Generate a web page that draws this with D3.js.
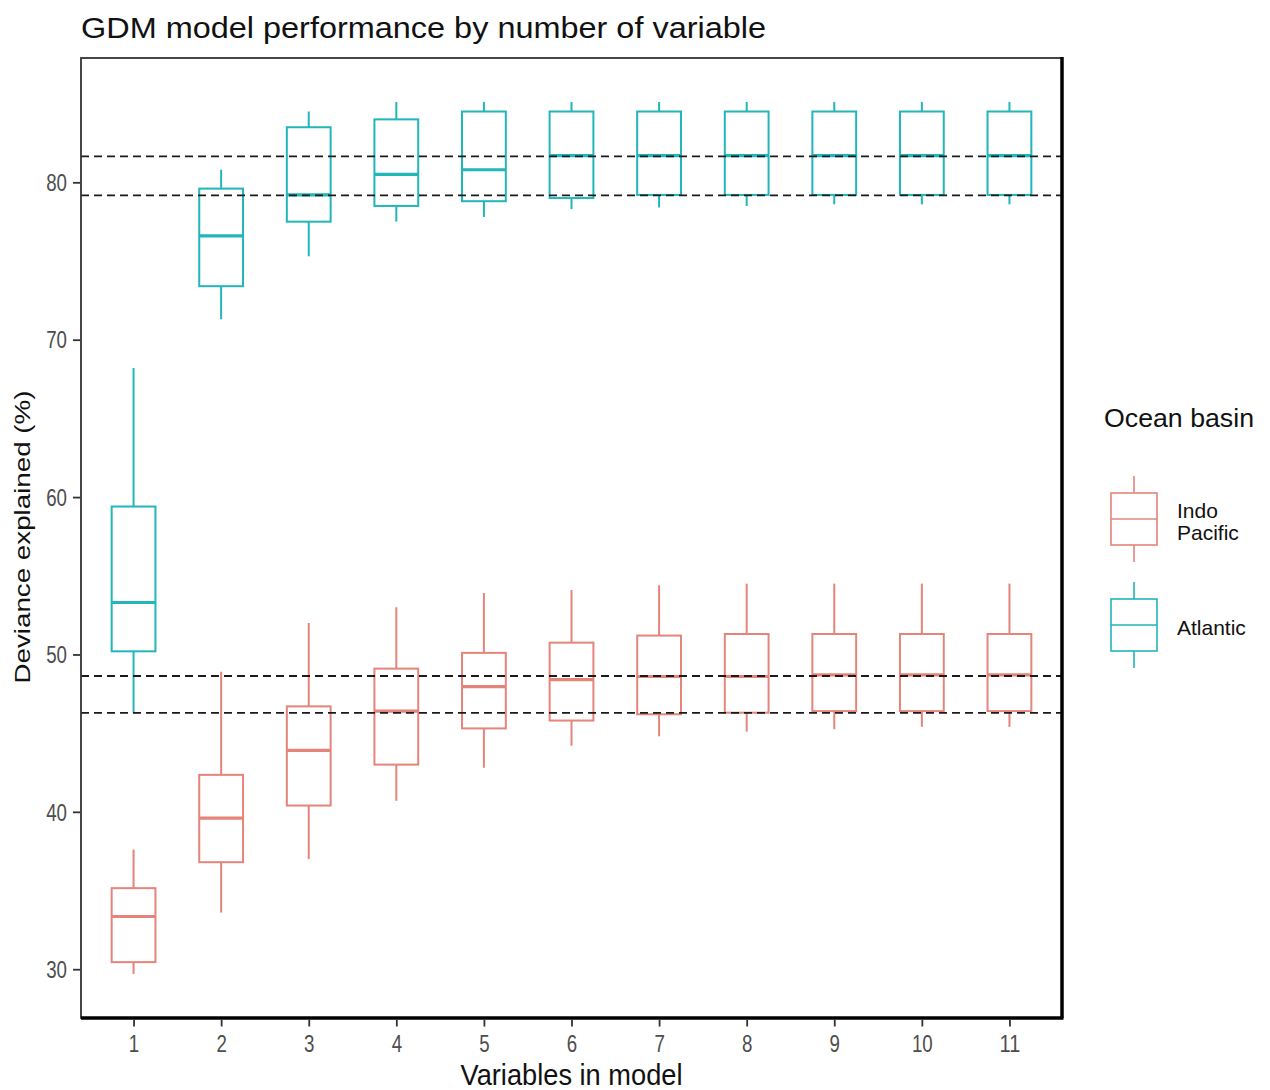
<!DOCTYPE html>
<html>
<head>
<meta charset="utf-8">
<script src="https://cdn.jsdelivr.net/npm/d3@7"></script>
<style>
  body { margin: 0; background: #fff; }
  svg { display: block; }
</style>
</head>
<body>
<div id="chart"></div>
<script>
// x categories
const variables = [1, 2, 3, 4, 5, 6, 7, 8, 9, 10, 11];
const yTicks = [30, 40, 50, 60, 70, 80];
const basins = ["Indo Pacific", "Atlantic"];

// Atlantic box stats (deviance explained, %)
const atlMin = [46.3, 71.3, 75.3, 77.5, 77.8, 78.3, 78.4, 78.5, 78.6, 78.6, 78.6];
const atlQ1  = [50.2, 73.4, 77.5, 78.5, 78.8, 79.0, 79.2, 79.2, 79.2, 79.2, 79.2];
const atlMed = [53.3, 76.6, 79.2, 80.5, 80.8, 81.7, 81.7, 81.7, 81.7, 81.7, 81.7];
const atlQ3  = [59.4, 79.6, 83.5, 84.0, 84.5, 84.5, 84.5, 84.5, 84.5, 84.5, 84.5];
const atlMax = [68.2, 80.8, 84.5, 85.1, 85.1, 85.1, 85.1, 85.1, 85.1, 85.1, 85.1];

// Indo Pacific box stats
const indoMin = [29.7, 33.6, 37.0, 40.7, 42.8, 44.2, 44.8, 45.1, 45.25, 45.4, 45.4];
const indoQ1  = [30.45, 36.8, 40.4, 43.0, 45.3, 45.8, 46.2, 46.3, 46.4, 46.4, 46.4];
const indoMed = [33.35, 39.6, 43.9, 46.4, 47.95, 48.4, 48.6, 48.6, 48.7, 48.7, 48.7];
const indoQ3  = [35.15, 42.35, 46.7, 49.1, 50.1, 50.75, 51.2, 51.3, 51.3, 51.3, 51.3];
const indoMax = [37.6, 48.9, 52.0, 53.0, 53.9, 54.1, 54.4, 54.5, 54.5, 54.5, 54.5];

// dashed reference lines
const refLines = [81.65, 79.17, 48.63, 46.29];

const width = 1270;
const height = 1090;
const plotL = 81, plotR = 1062, plotT = 58, plotB = 1018;
const colors = { "Indo Pacific": "#E5847A", "Atlantic": "#22B5B9" };
const narrow = "'Liberation Sans Narrow', 'Arial Narrow', 'Liberation Sans', Arial, sans-serif";
const regular = "'Liberation Sans', Arial, sans-serif";

const svg = d3.select("#chart").append("svg")
    .attr("width", width)
    .attr("height", height);

const x = d3.scalePoint()
    .domain(variables)
    .range([plotL, plotR])
    .padding(0.6);

const y = d3.scaleLinear()
    .domain([26.9, 87.9])
    .range([plotB, plotT]);

const boxW = x.step() * 0.5;

function rows(name, mn, q1, md, q3, mx) {
  return variables.map((v, i) => ({
    basin: name, v: v, min: mn[i], q1: q1[i], med: md[i], q3: q3[i], max: mx[i]
  }));
}
const data = rows("Indo Pacific", indoMin, indoQ1, indoMed, indoQ3, indoMax)
  .concat(rows("Atlantic", atlMin, atlQ1, atlMed, atlQ3, atlMax));

// boxes
const g = svg.append("g");
const box = g.selectAll("g.box")
    .data(data)
  .enter().append("g")
    .attr("class", "box")
    .attr("stroke", d => colors[d.basin])
    .attr("fill", "none");

box.append("line")
    .attr("x1", d => x(d.v)).attr("x2", d => x(d.v))
    .attr("y1", d => y(d.max)).attr("y2", d => y(d.q3))
    .attr("stroke-width", 2);
box.append("line")
    .attr("x1", d => x(d.v)).attr("x2", d => x(d.v))
    .attr("y1", d => y(d.q1)).attr("y2", d => y(d.min))
    .attr("stroke-width", 2);
box.append("rect")
    .attr("x", d => x(d.v) - boxW / 2)
    .attr("width", boxW)
    .attr("y", d => y(d.q3))
    .attr("height", d => y(d.q1) - y(d.q3))
    .attr("fill", "#fff")
    .attr("stroke-width", 2);
box.append("line")
    .attr("x1", d => x(d.v) - boxW / 2).attr("x2", d => x(d.v) + boxW / 2)
    .attr("y1", d => y(d.med)).attr("y2", d => y(d.med))
    .attr("stroke-width", 3.2);

// dashed lines on top
svg.append("g").selectAll("line")
    .data(refLines)
  .enter().append("line")
    .attr("x1", plotL).attr("x2", plotR)
    .attr("y1", d => y(d)).attr("y2", d => y(d))
    .attr("stroke", "#1a1a1a")
    .attr("stroke-width", 1.8)
    .attr("stroke-dasharray", "8,5");

// frame
svg.append("rect")
    .attr("x", plotL).attr("y", plotT)
    .attr("width", plotR - plotL).attr("height", plotB - plotT)
    .attr("fill", "none")
    .attr("stroke", "#333")
    .attr("stroke-width", 1.8);
svg.append("line")
    .attr("x1", plotL).attr("x2", plotR + 1.5)
    .attr("y1", plotB).attr("y2", plotB)
    .attr("stroke", "#000").attr("stroke-width", 3.5);
svg.append("line")
    .attr("x1", plotR).attr("x2", plotR)
    .attr("y1", plotT - 1).attr("y2", plotB)
    .attr("stroke", "#000").attr("stroke-width", 3.5);

// axes
const yAxis = svg.append("g")
    .attr("transform", "translate(" + (plotL - 1) + ",0)")
    .call(d3.axisLeft(y).tickValues(yTicks).tickSize(7).tickPadding(6));
const xAxis = svg.append("g")
    .attr("transform", "translate(0," + (plotB + 1.5) + ")")
    .call(d3.axisBottom(x).tickSize(7).tickPadding(9));

[yAxis, xAxis].forEach(a => {
  a.select(".domain").remove();
  a.selectAll(".tick line").attr("stroke", "#333").attr("stroke-width", 1.8);
  // squeeze digits to the condensed look of the original
  a.selectAll(".tick text")
      .attr("fill", "#4d4d4d")
      .attr("textLength", d => String(d).length * 10.4)
      .attr("lengthAdjust", "spacingAndGlyphs")
      .style("font-family", narrow)
      .style("font-size", "23px");
});
yAxis.selectAll(".tick text").attr("dy", "0.36em");

// title
svg.append("text")
    .attr("x", plotL)
    .attr("y", 38)
    .attr("textLength", 685)
    .attr("lengthAdjust", "spacingAndGlyphs")
    .style("font-family", regular)
    .style("font-size", "29px")
    .attr("fill", "#111")
    .text("GDM model performance by number of variable");

// axis titles
svg.append("text")
    .attr("x", (plotL + plotR) / 2)
    .attr("y", 1085)
    .attr("text-anchor", "middle")
    .attr("textLength", 222)
    .attr("lengthAdjust", "spacingAndGlyphs")
    .style("font-family", narrow)
    .style("font-size", "30px")
    .attr("fill", "#111")
    .text("Variables in model");

svg.append("text")
    .attr("transform", "translate(30,537)rotate(-90)")
    .attr("text-anchor", "middle")
    .attr("textLength", 293)
    .attr("lengthAdjust", "spacingAndGlyphs")
    .style("font-family", regular)
    .style("font-size", "22px")
    .attr("fill", "#111")
    .text("Deviance explained (%)");

// legend
const legend = svg.append("g");
legend.append("text")
    .attr("x", 1104)
    .attr("y", 427)
    .attr("textLength", 150)
    .attr("lengthAdjust", "spacingAndGlyphs")
    .style("font-family", regular)
    .style("font-size", "25px")
    .attr("fill", "#111")
    .text("Ocean basin");

const keyY = d3.scalePoint().domain(basins).range([519, 625]);
const key = legend.selectAll("g.key")
    .data(basins)
  .enter().append("g")
    .attr("class", "key")
    .attr("transform", d => "translate(1134," + keyY(d) + ")")
    .attr("stroke", d => colors[d])
    .attr("fill", "none")
    .attr("stroke-width", 1.6);
key.append("line").attr("y1", -43).attr("y2", 43);
key.append("rect")
    .attr("x", -23).attr("y", -26)
    .attr("width", 46).attr("height", 52)
    .attr("fill", "#fff");
key.append("line").attr("x1", -23).attr("x2", 23);

key.append("text")
    .attr("x", 43)
    .attr("stroke", "none")
    .attr("fill", "#111")
    .style("font-family", regular)
    .style("font-size", "21px")
    .selectAll("tspan")
    .data(d => d === "Indo Pacific" ? [["Indo", -1], ["Pacific", 21]] : [[d, 10]])
  .enter().append("tspan")
    .attr("x", 43)
    .attr("y", t => t[1])
    .text(t => t[0]);
</script>
</body>
</html>
